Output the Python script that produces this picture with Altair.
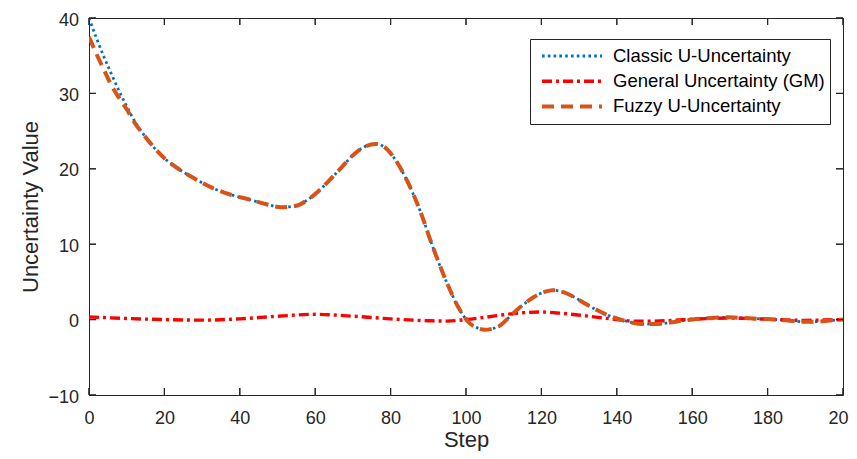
import altair as alt
import pandas as pd

# ---------------- data ----------------
series_names = ["Classic U-Uncertainty", "General Uncertainty (GM)", "Fuzzy U-Uncertainty"]

steps_u = [0, 2, 4, 6, 8, 10, 12, 15, 20, 24, 28, 33, 38, 42, 47, 51, 55, 58, 61, 64,
           67, 70, 73, 76, 78, 81, 84, 88, 91, 95, 98, 101, 103, 105, 107, 109, 112, 115, 118, 121,
           123, 126, 129, 132, 135, 138, 141, 144, 147, 150, 154, 158, 162, 166, 170, 174, 178, 182, 186, 190,
           194, 197, 200]
classic_u = [40, 37.3, 34.8, 32.5, 30.3, 28.3, 26.4, 24.2, 21.4, 19.9,
             18.7, 17.4, 16.5, 16.0, 15.3, 14.9, 15.1, 15.9, 17.1, 18.6,
             20.2, 21.8, 22.9, 23.3, 23.0, 21.4, 18.8, 14.2, 9.9, 4.8,
             1.6, -0.5, -1.1, -1.35, -1.2, -0.8, 0.6, 1.9, 3.0, 3.7,
             3.9, 3.6, 2.9, 2.0, 1.2, 0.5, 0.0, -0.4, -0.6, -0.6,
             -0.4, -0.1, 0.1, 0.25, 0.3, 0.2, 0.1, 0.0, -0.15, -0.3,
             -0.25, -0.1, 0.0]
fuzzy_u = [37.5, 35.2, 33.1, 31.0, 29.4, 27.9, 26.2, 24.2, 21.4, 19.9,
           18.7, 17.4, 16.5, 16.0, 15.3, 14.9, 15.1, 15.9, 17.1, 18.6,
           20.2, 21.8, 22.9, 23.3, 23.0, 21.4, 18.8, 14.2, 9.9, 4.8,
           1.6, -0.5, -1.1, -1.35, -1.2, -0.8, 0.6, 1.9, 3.0, 3.7,
           3.9, 3.6, 2.9, 2.0, 1.2, 0.5, 0.0, -0.4, -0.6, -0.6,
           -0.4, -0.1, 0.1, 0.25, 0.3, 0.2, 0.1, 0.0, -0.15, -0.3,
           -0.25, -0.1, 0.0]

steps_gm = [0, 10, 20, 30, 40, 50, 60, 70, 80, 90,
            95, 100, 105, 110, 115, 120, 125, 130, 135, 140,
            145, 150, 155, 160, 165, 170, 175, 180, 185, 190,
            195, 200]
general_gm = [0.35, 0.15, 0.0, -0.07, 0.1, 0.45, 0.7, 0.45, 0.1, -0.15,
              -0.2, 0.0, 0.3, 0.65, 0.9, 1.0, 0.85, 0.6, 0.3, 0.0,
              -0.2, -0.2, -0.1, 0.05, 0.15, 0.2, 0.15, 0.05, -0.05, -0.1,
              -0.05, 0.0]

x_ticks = [0, 20, 40, 60, 80, 100, 120, 140, 160, 180, 200]
y_ticks = [-10, 0, 10, 20, 30, 40]

rows = []
for s, v in zip(steps_u, classic_u):
    rows.append({"series": series_names[0], "step": s, "value": v})
for s, v in zip(steps_gm, general_gm):
    rows.append({"series": series_names[1], "step": s, "value": v})
for s, v in zip(steps_u, fuzzy_u):
    rows.append({"series": series_names[2], "step": s, "value": v})
df = pd.DataFrame(rows)
xt_df = pd.DataFrame({"tstep": x_ticks})
yt_df = pd.DataFrame({"tvalue": y_ticks})

# ---------------- styling ----------------
W, H = 754, 377
AX = "#262626"
FONT = "Liberation Sans"
TICK = 7

xscale = alt.Scale(domain=[0, 200], nice=False, zero=False)
yscale = alt.Scale(domain=[-10, 40], nice=False, zero=False)

color = alt.Color(
    "series:N",
    scale=alt.Scale(domain=series_names, range=["#0072BD", "#FF0000", "#D95319"]),
    title=None,
    legend=alt.Legend(
        orient="none", legendX=441, legendY=21, direction="vertical",
        symbolType="stroke", symbolSize=3600, symbolStrokeWidth=3.2,
        symbolOffset=5, clipHeight=24, rowPadding=1.2,
        labelFont=FONT, labelFontSize=18.5, labelColor="#000000",
        labelOffset=9, labelLimit=0, padding=5,
        strokeColor=AX, fillColor="#ffffff",
    ),
)
dash = alt.StrokeDash(
    "series:N",
    scale=alt.Scale(domain=series_names, range=[[2.6, 3.2], [10, 4, 3, 4], [12, 7]]),
    title=None,
)
swidth = alt.StrokeWidth(
    "series:N",
    scale=alt.Scale(domain=series_names, range=[2.8, 4.0, 3.4]),
    legend=None,
)

x_main = alt.Axis(orient="bottom", values=x_ticks, grid=False, ticks=False, tickSize=0,
                  domain=False,
                  labelFont=FONT, labelFontSize=18, labelColor=AX, labelPadding=14.5,
                  labelFlush=False, title="Step", titleFont=FONT, titleFontSize=22,
                  titleFontWeight="normal", titleColor=AX, titleBaseline="alphabetic",
                  titleY=51)
y_main = alt.Axis(orient="left", values=y_ticks, grid=False, ticks=False, tickSize=0,
                  domain=False,
                  labelFont=FONT, labelFontSize=18, labelColor=AX, labelPadding=10.5,
                  labelOffset=2, labelFlush=False,
                  title="Uncertainty Value", titleFont=FONT, titleFontSize=22,
                  titleFontWeight="normal", titleColor=AX, titleBaseline="alphabetic",
                  titleX=-52)


def line_layer(name, x_axis, y_axis):
    return alt.Chart(df).transform_filter(
        alt.datum.series == name
    ).mark_line(interpolate="monotone", clip=True).encode(
        x=alt.X("step:Q", scale=xscale, axis=x_axis),
        y=alt.Y("value:Q", scale=yscale, axis=y_axis),
        color=color,
        strokeDash=dash,
        strokeWidth=swidth,
    )


# only the first line layer carries the labelled axes
lines = [line_layer(series_names[0], x_main, y_main),
         line_layer(series_names[1], None, None),
         line_layer(series_names[2], None, None)]


def tick_layers():
    # inward tick marks on all four sides (positions from the tick arrays via the scales)
    xt = alt.Chart(xt_df).mark_rule(color=AX, strokeWidth=1.1)
    yt = alt.Chart(yt_df).mark_rule(color=AX, strokeWidth=1.1)
    return [
        xt.encode(x=alt.X("tstep:Q", scale=xscale, axis=None),
                  y=alt.value(H), y2=alt.value(H - TICK)),
        xt.encode(x=alt.X("tstep:Q", scale=xscale, axis=None),
                  y=alt.value(0), y2=alt.value(TICK)),
        yt.encode(y=alt.Y("tvalue:Q", scale=yscale, axis=None),
                  x=alt.value(0), x2=alt.value(TICK)),
        yt.encode(y=alt.Y("tvalue:Q", scale=yscale, axis=None),
                  x=alt.value(W), x2=alt.value(W - TICK)),
    ]


chart = alt.layer(
    *tick_layers(), *lines, *tick_layers()
).resolve_axis(x="independent", y="independent").properties(
    width=W, height=H,
    autosize=alt.AutoSizeParams(type="none"),
    padding={"left": 81, "top": 10, "right": 6, "bottom": 56},
    background="#ffffff",
).configure_view(stroke=AX, strokeWidth=1).configure_axis(grid=False)

chart.save("out.html", embed_options={"renderer": "svg", "actions": False})
